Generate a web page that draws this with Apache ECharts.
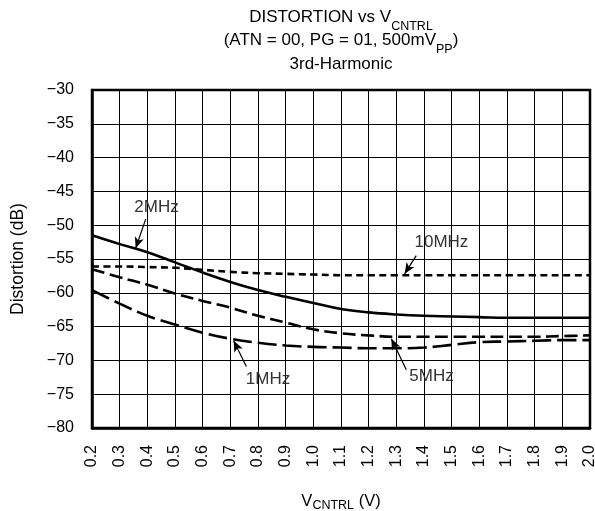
<!DOCTYPE html>
<html><head><meta charset="utf-8">
<script src="https://cdn.jsdelivr.net/npm/echarts@6/dist/echarts.min.js"></script>
<style>html,body{margin:0;padding:0;background:#fff}#c{width:595px;height:511px}</style>
</head><body><div id="c"></div>
<script>
const xValues = [0.2,0.3,0.4,0.5,0.6,0.7,0.8,0.9,1.0,1.1,1.2,1.3,1.4,1.5,1.6,1.7,1.8,1.9,2.0];
const mhz2  = [-51.5,-52.8,-54.0,-55.5,-57.0,-58.4,-59.6,-60.6,-61.5,-62.4,-62.9,-63.2,-63.4,-63.5,-63.6,-63.7,-63.7,-63.7,-63.7];
const mhz10 = [-56.1,-56.1,-56.2,-56.3,-56.6,-56.9,-57.1,-57.2,-57.3,-57.4,-57.4,-57.4,-57.4,-57.4,-57.4,-57.4,-57.4,-57.4,-57.4];
const mhz5  = [-56.5,-57.7,-58.8,-60.1,-61.2,-62.2,-63.4,-64.4,-65.4,-66.0,-66.3,-66.5,-66.5,-66.5,-66.5,-66.5,-66.5,-66.4,-66.3];
const mhz1  = [-59.6,-61.6,-63.4,-64.7,-65.9,-66.8,-67.4,-67.8,-68.0,-68.1,-68.2,-68.2,-68.1,-67.7,-67.3,-67.2,-67.1,-67.0,-67.0];
const xTicks = {min:0.2, max:2.0, interval:0.1};
const yTicks = {min:-80, max:-30, interval:5};
// annotation: [label, labelX, labelY, tailX, tailY, headX, headY]
const notes2  = ['2MHz', 0.433, -47.3, 0.394, -49.1, 0.358, -53.4];
const notes10 = ['10MHz', 1.463, -52.5, 1.372, -54.5, 1.330, -57.2];
const notes5  = ['5MHz', 1.427, -72.3, 1.336, -71.4, 1.282, -66.8];
const notes1  = ['1MHz', 0.836, -72.8, 0.758, -70.9, 0.712, -67.1];

const FONT = '"Liberation Sans", Arial, sans-serif';
function pairs(ys){ return xValues.map((x,i)=>[x,ys[i]]); }
function mkSeries(name, ys, dash, note){
  return {
    name, type:'line', data:pairs(ys), smooth:0.4, symbol:'none', silent:true,
    lineStyle:{color:'#000', width:2.6, type:dash},
    markLine:{silent:true, symbol:['none','arrow'], symbolSize:[7,11],
      lineStyle:{color:'#000', width:1.2, type:'solid'}, label:{show:false},
      data:[[{coord:[note[3],note[4]]},{coord:[note[5],note[6]]}]]},
    markPoint:{silent:true, symbol:'circle', symbolSize:0,
      label:{show:true, position:'inside', formatter:note[0], color:'#333', fontSize:17, fontFamily:FONT},
      data:[{coord:[note[1],note[2]]}]}
  };
}
const richTitle = {
  a:{fontSize:17, fontFamily:FONT, color:'#000', fontWeight:'normal', lineHeight:22},
  s:{fontSize:12.5, fontFamily:FONT, color:'#000', fontWeight:'normal', lineHeight:33, verticalAlign:'bottom'}
};
const chart = echarts.init(document.getElementById('c'), null, {renderer:'canvas'});
chart.setOption({
  animation:false,
  backgroundColor:'#fff',
  title:[
    {left:341, top:0.5, padding:0, textAlign:'center', text:'{a|DISTORTION vs V}{s|CNTRL}', textStyle:{fontWeight:'normal', rich:richTitle}},
    {left:341, top:23.5, padding:0, textAlign:'center', text:'{a|(ATN = 00, PG = 01, 500mV}{s|PP}{a|)}', textStyle:{fontWeight:'normal', rich:richTitle}},
    {left:341, top:54, padding:0, textAlign:'center', text:'3rd-Harmonic', textStyle:{fontWeight:'normal', fontSize:17, fontFamily:FONT, color:'#000', lineHeight:20}}
  ],
  grid:{left:92, right:5, top:90, bottom:83, show:true, borderColor:'#000', borderWidth:2.5, backgroundColor:'transparent', outerBoundsMode:'none', containLabel:false},
  xAxis:{type:'value', min:xTicks.min, max:xTicks.max, interval:xTicks.interval,
    axisLine:{show:true, lineStyle:{color:'#000', width:2.5}}, axisTick:{show:false},
    splitLine:{show:true, lineStyle:{color:'#000', width:1}},
    axisLabel:{rotate:90, margin:17, color:'#000', fontSize:16, fontFamily:FONT, formatter:v=>v.toFixed(1)},
    name:'{a|V}{s|CNTRL}{a| (V)}', nameLocation:'middle', nameGap:62,
    nameTextStyle:{rich:{
      a:{fontSize:16.5, fontFamily:FONT, color:'#000', lineHeight:20},
      s:{fontSize:12.5, fontFamily:FONT, color:'#000', lineHeight:22, verticalAlign:'bottom'}}}
  },
  yAxis:{type:'value', min:yTicks.min, max:yTicks.max, interval:yTicks.interval,
    axisLine:{show:true, lineStyle:{color:'#000', width:2.5}}, axisTick:{show:false},
    splitLine:{show:true, lineStyle:{color:'#000', width:1}},
    axisLabel:{margin:18, color:'#000', fontSize:16, fontFamily:FONT, formatter:v=>String(v).replace('-','\u2212')},
    name:'Distortion (dB)', nameLocation:'middle', nameGap:65,
    nameTextStyle:{fontSize:17.5, fontFamily:FONT, color:'#000'}
  },
  series:[
    mkSeries('2MHz', mhz2, 'solid', notes2),
    mkSeries('10MHz', mhz10, [7,4.5], notes10),
    mkSeries('5MHz', mhz5, [13,5.5], notes5),
    mkSeries('1MHz', mhz1, [19,6], notes1)
  ]
});
</script></body></html>
